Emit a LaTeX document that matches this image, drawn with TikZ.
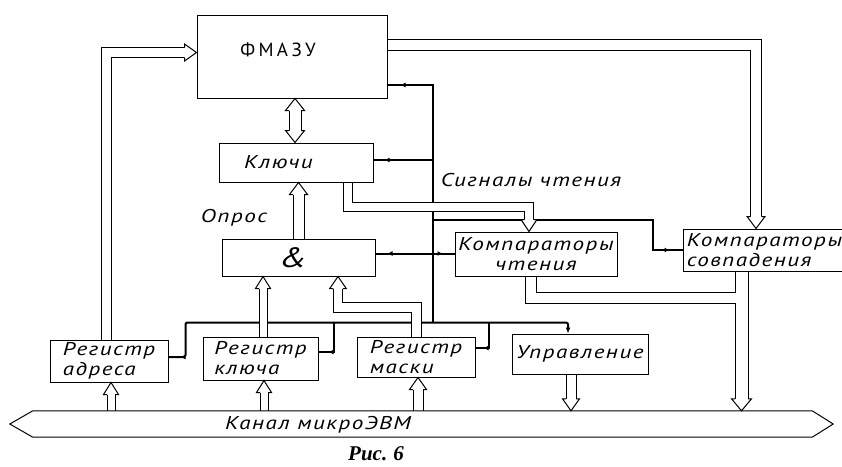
\documentclass[tikz,border=0pt]{standalone}
\usepackage{fontspec}
\setmainfont{PT Sans}
\newfontfamily\gostfam{PT Sans}[FakeStretch=1.25,LetterSpace=8]
\newfontfamily\titlefam{PT Sans}[LetterSpace=18]
\newfontfamily\capfam{Liberation Serif}
\usetikzlibrary{arrows.meta,calc,decorations.markings}
\pgfdeclarelayer{bg}
\pgfsetlayers{bg,main}
\tikzset{
  gost/.style={font=\gostfam\itshape\fontsize{18.5}{20}\selectfont},
  box/.style={draw, line width=1pt, inner sep=0pt, align=left, gost},
  dbl/.style={line width=1pt, double, double distance=8pt},
  ctl/.style={line width=2pt},
  mk/.style={postaction={decorate,decoration={markings,mark=at position #1 with {\arrow{Latex[length=5pt,width=5pt]}}}}},
  mkr/.style={postaction={decorate,decoration={markings,mark=at position #1 with {\arrowreversed{Latex[length=5pt,width=5pt]}}}}},
  hup/.pic={\fill[white] (-#1-3.5,12) -- (0,0) -- (#1+3.5,12) -- cycle;
            \draw[line width=1pt] (-#1,12) -- (-#1-3.5,12) -- (0,0) -- (#1+3.5,12) -- (#1,12);},
  hdown/.pic={\fill[white] (-#1-3.5,-12) -- (0,0) -- (#1+3.5,-12) -- cycle;
            \draw[line width=1pt] (-#1,-12) -- (-#1-3.5,-12) -- (0,0) -- (#1+3.5,-12) -- (#1,-12);},
  hright/.pic={\fill[white] (-12,-#1-3.5) -- (0,0) -- (-12,#1+3.5) -- cycle;
            \draw[line width=1pt] (-12,-#1) -- (-12,-#1-3.5) -- (0,0) -- (-12,#1+3.5) -- (-12,#1);},
}
\begin{document}
\begin{tikzpicture}[x=1pt,y=-1pt]
\useasboundingbox (0,0) rectangle (842,466);

% boxes
\node[box, minimum width=190pt, minimum height=83pt] (fm) at (292,56.5) {};
\node[font=\titlefam\fontsize{19}{20}\selectfont] (fmt) at (278,50) {ФМАЗУ};
\node[box, minimum width=154pt, minimum height=39pt] (kl) at (296,162.5) {};
\node[gost] (klt) at ($(kl.center)+(-17.5,0)$) {Ключи};
\node[box, minimum width=153pt, minimum height=37pt] (and) at (298.5,257.5) {};
\node[font=\gostfam\itshape\fontsize{28}{28}\selectfont] (andt) at ($(and.center)+(-5,0)$) {\&};
\node[box, align=center, minimum width=162pt, minimum height=44pt] (kc) at (536,254) {Компараторы\\чтения};
\node[box, minimum width=163pt, minimum height=42pt] (ks) at (764.5,250) {Компараторы\\совпадения};
\node[box, minimum width=118pt, minimum height=42pt] (ra) at (109,361) {Регистр\\адреса};
\node[box, minimum width=115pt, minimum height=43pt] (rk) at (260.5,358.5) {Регистр\\ключа};
\node[box, minimum width=118pt, minimum height=40pt] (rm) at (416,357) {Регистр\\маски};
\node[box, minimum width=136pt, minimum height=40pt] (up) at (580,354) {Управление};
% bus (Канал микроЭВМ): shaft node, outline drawn below
\node[minimum width=779pt, minimum height=26pt, inner sep=0pt] (bus) at (422.5,424) {};
\draw[line width=1pt, line join=miter] ($(bus.west)+(-23,0)$) -- (bus.north west) -- (bus.north east)
   -- ($(bus.east)+(21,0)$) -- (bus.south east) -- (bus.south west) -- cycle;
\node[gost] (busl) at (318,425) {Канал микроЭВМ};
\node[gost] (opr) at (234,218) {Опрос};
\node[gost] (sig) at (531,180) {Сигналы чтения};
\node[font=\capfam\bfseries\itshape\fontsize{21}{22}\selectfont] (cap) at (376,454) {Рис.\hspace{6pt}6};

\coordinate (vb) at (433,323);
\coordinate (bt) at (bus.north);

\begin{pgfonlayer}{bg}
% control lines
\draw[ctl, mkr=13pt] ($(fm.east)+(0,28.5)$) -| (vb);
\draw[ctl, mkr=11pt] ($(kl.east)+(0,-2.5)$) coordinate (k1) -- (k1 -| vb);
\draw[ctl, mkr=12pt, mk=-12pt] ($(and.east)+(0,-4)$) coordinate (a1) -- (a1 -| kc.west);
\draw[ctl, mk=-13pt] ($(vb)+(0,-103)$) -| ($(ks.west)+(-30,0)$) -- (ks.west);
\draw[ctl, mkr=12pt, -{Latex[length=6pt,width=5pt]}, rounded corners=2pt] ($(ra.east)+(0,-4)$) -- ++(17,0) |- ($(up.north)+(-12,-11)$) -- ($(up.north)+(-12,0)$);
\draw[ctl, mkr=10pt] ($(rk.east)+(0,-6.5)$) -- ++(15,0) -- ++(0,-29);
\draw[ctl, mkr=8pt] ($(rm.east)+(0,-9)$) -- ++(13,0) -- ++(0,-25);

% hollow arrows
\draw[dbl, double distance=9pt] ($(ra.north)+(-2.5,0)$) |- ($(fm.west)+(-12,-4)$);
\pic at ($(fm.west)+(0,-4)$) {hright=5};

\draw[dbl, double distance=11pt] ($(fm.south)+(3,12)$) -- ($(kl.north)+(-1,-12)$);
\pic at ($(fm.south)+(3,0)$) {hup=6};
\pic at ($(kl.north)+(-1,0)$) {hdown=6};

\draw[dbl, double distance=10pt] (and.north) -- ($(and.north |- kl.south)+(0,12)$);
\pic at (and.north |- kl.south) {hup=5.5};

\draw[dbl, double distance=7pt] ($(rk.north)+(2.5,0)$) -- ($(rk.north |- and.south)+(2.5,12)$);
\pic at ($(rk.north |- and.south)+(2.5,0)$) {hup=4};

\draw[dbl, double distance=8.5pt] ($(rm.north)+(0.5,0)$) -- ++(0,-29) -| ($(and.south)+(39.5,12)$);
\pic at ($(and.south)+(39.5,0)$) {hup=4.75};

\draw[dbl, double distance=7pt] ($(ra.south |- bt)+(2,0)$) -- ($(ra.south)+(2,12)$);
\pic at ($(ra.south)+(2,0)$) {hup=4};
\draw[dbl, double distance=7pt] ($(rk.south |- bt)+(3.5,0)$) -- ($(rk.south)+(3.5,12)$);
\pic at ($(rk.south)+(3.5,0)$) {hup=4};
\draw[dbl, double distance=9pt] ($(rm.south |- bt)+(2,0)$) -- ($(rm.south)+(2,12)$);
\pic at ($(rm.south)+(2,0)$) {hup=5};

\draw[dbl, double distance=9pt] ($(up.south)+(-9,0)$) -- ($(up.south |- bt)+(-9,-12)$);
\pic at ($(up.south |- bt)+(-9,0)$) {hdown=5};

\draw[dbl, double distance=10pt] ($(fm.east)+(0,-11.5)$) -| ($(ks.north)+(-8.5,-12)$);
\pic at ($(ks.north)+(-8.5,0)$) {hdown=5.5};

\draw[dbl] ($(kl.south)+(51.5,0)$) -- ++(0,24) -| ($(kc.north)+(-7,-12)$);
\pic at ($(kc.north)+(-7,0)$) {hdown=4.5};

\draw[dbl, double distance=12pt] ($(ks.south)+(-23,0)$) -- ($(ks.south |- bt)+(-23,-12)$);
\pic at ($(ks.south |- bt)+(-23,0)$) {hdown=6.5};
\draw[dbl, double distance=10pt] ($(kc.south)+(-5.5,0)$) |- ($(ks.south)+(-28.5,26.5)$);
\end{pgfonlayer}
\end{tikzpicture}
\end{document}
